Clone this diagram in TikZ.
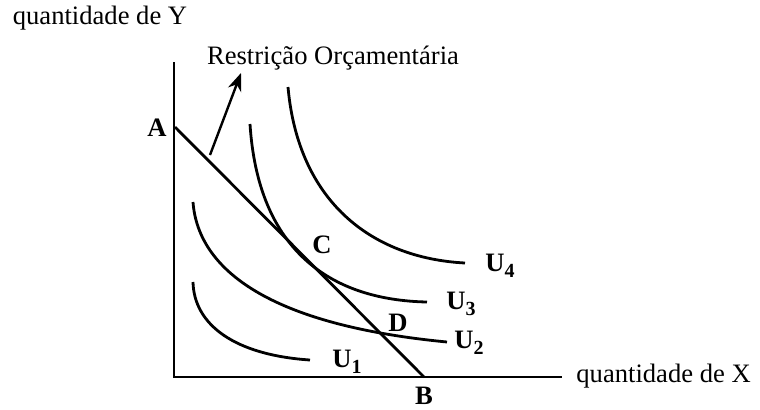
\documentclass[tikz,border=0pt]{standalone}
\usepackage{fontspec}
\setmainfont{Liberation Serif}
\usetikzlibrary{arrows.meta}
\begin{document}
\begin{tikzpicture}[x=0.5pt,y=-0.5pt,
  axis/.style={line width=1.2pt},
  curve/.style={line width=1.4pt},
  txt/.style={inner sep=0pt,font=\fontsize{13.3}{16}\selectfont},
  lbl/.style={inner sep=0pt,font=\fontsize{13.3}{16}\selectfont\bfseries},
  ptr/.style={line width=1.2pt,-{Stealth[length=9pt,width=7pt]}}]
\useasboundingbox (0,0) rectangle (760,409);
\newcommand{\ulab}[1]{U\raisebox{-0.45ex}{\fontsize{10}{12}\selectfont\bfseries #1}}
% axes
\coordinate (ytop) at (174,62);
\coordinate (O) at (174,377);
\coordinate (xend) at (562,377);
\draw[axis] (ytop) -- (O) -- (xend);
\node[txt] (ylab) at (100,18) {quantidade de Y};
\node[txt,anchor=west] (xlab) at (576,376) {quantidade de X};
% budget line
\coordinate (A) at (175,127);
\coordinate (B) at (424,377);
\draw[curve] (A) -- (B);
\node[lbl] (Alab) at (157,128) {A};
\node[lbl] (Blab) at (424,396) {B};
% indifference curves
\coordinate (u1s) at (193,282); \coordinate (u1e) at (310,360);
\coordinate (u2s) at (193,202); \coordinate (u2e) at (447,342);
\coordinate (u3s) at (250,124); \coordinate (u3e) at (427,302);
\coordinate (u4s) at (288,87);  \coordinate (u4e) at (465,263);
\draw[curve] (u1s) .. controls (194,325) and (235,355) .. (u1e);
\draw[curve] (u2s) .. controls (198,270) and (270,325) .. (u2e);
\draw[curve] (u3s) .. controls (258,250) and (330,300) .. (u3e);
\draw[curve] (u4s) .. controls (298,200) and (370,258) .. (u4e);
\node[lbl] (U1) at (347,362) {\ulab{1}};
\node[lbl] (U2) at (469,343) {\ulab{2}};
\node[lbl] (U3) at (461,304) {\ulab{3}};
\node[lbl] (U4) at (500,266) {\ulab{4}};
\node[lbl] (C) at (322,245) {C};
\node[lbl] (D) at (398,323) {D};
% annotation
\node[txt] (restr) at (333,58) {Restrição Orçamentária};
\coordinate (arrtail) at (210,155);
\coordinate (arrhead) at (241,73);
\draw[ptr] (arrtail) -- (arrhead);
\end{tikzpicture}
\end{document}
